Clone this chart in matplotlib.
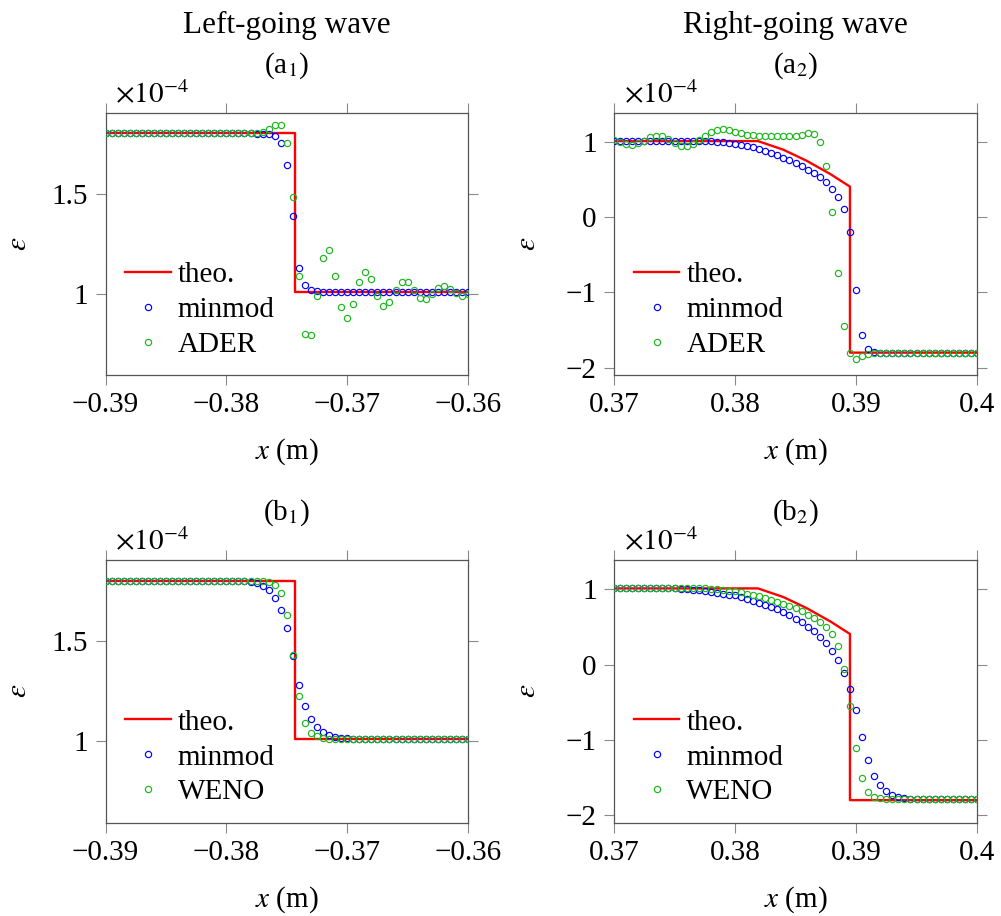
import numpy as np
import matplotlib
matplotlib.use('Agg')
import matplotlib.pyplot as plt

plt.rcParams['font.family'] = ['Liberation Serif', 'DejaVu Serif']
plt.rcParams['mathtext.fontset'] = 'stix'
plt.rcParams['font.size'] = 21

# ---------------- data ----------------
x_left = np.linspace(-0.39, -0.36, 61)
x_right = np.linspace(0.37, 0.40, 61)

theo_left_x = [-0.39, -0.3743, -0.3743, -0.36]
theo_left_y = [1.80, 1.80, 1.01, 1.01]
theo_right_x = [0.37, 0.3819, 0.3840, 0.3859, 0.3879, 0.3895, 0.3895, 0.40]
theo_right_y = [1.01, 1.01, 0.895, 0.75, 0.57, 0.405, -1.80, -1.80]

a1_minmod = [1.80, 1.80, 1.80, 1.80, 1.80, 1.80, 1.80, 1.80, 1.80, 1.80,
             1.80, 1.80, 1.80, 1.80, 1.80, 1.80, 1.80, 1.80, 1.80, 1.80,
             1.80, 1.80, 1.80, 1.80, 1.80, 1.799, 1.797, 1.795, 1.787, 1.75,
             1.64, 1.39, 1.13, 1.043, 1.02, 1.012, 1.01, 1.01, 1.01, 1.01,
             1.01, 1.01, 1.01, 1.01, 1.01, 1.01, 1.01, 1.01, 1.01, 1.01,
             1.01, 1.01, 1.01, 1.01, 1.01, 1.01, 1.01, 1.01, 1.01, 1.01,
             1.01]
a1_ader = [1.80, 1.80, 1.80, 1.80, 1.80, 1.80, 1.80, 1.80, 1.80, 1.80,
           1.80, 1.80, 1.80, 1.80, 1.80, 1.80, 1.80, 1.80, 1.80, 1.80,
           1.80, 1.80, 1.80, 1.80, 1.80, 1.802, 1.806, 1.82, 1.84, 1.84,
           1.75, 1.483, 1.09, 0.80, 0.795, 0.99, 1.18, 1.22, 1.09, 0.935,
           0.88, 0.95, 1.06, 1.11, 1.075, 0.99, 0.94, 0.96, 1.02, 1.06,
           1.06, 1.02, 0.98, 0.975, 1.00, 1.03, 1.04, 1.025, 1.005, 0.99,
           1.00]

a2_minmod = [1.01, 1.01, 1.01, 1.01, 1.01, 1.01, 1.01, 1.01, 1.01, 1.01,
             1.01, 1.01, 1.01, 1.01, 1.01, 1.01, 1.008, 1.003, 0.997, 0.987,
             0.973, 0.96, 0.947, 0.928, 0.906, 0.88, 0.853, 0.822, 0.791, 0.755,
             0.715, 0.675, 0.631, 0.582, 0.528, 0.462, 0.377, 0.271, 0.111, -0.20,
             -0.973, -1.569, -1.747, -1.792, -1.80, -1.80, -1.80, -1.80, -1.80, -1.80,
             -1.80, -1.80, -1.80, -1.80, -1.80, -1.80, -1.80, -1.80, -1.80, -1.80,
             -1.80]
a2_ader = [1.022, 0.995, 0.973, 0.964, 0.982, 1.009, 1.062, 1.084, 1.08, 1.04,
           0.986, 0.951, 0.942, 0.969, 1.031, 1.075, 1.133, 1.155, 1.164, 1.155,
           1.128, 1.111, 1.097, 1.088, 1.08, 1.075, 1.071, 1.071, 1.071, 1.075,
           1.084, 1.097, 1.115, 1.106, 0.995, 0.675, 0.07, -0.738, -1.445, -1.805,
           -1.885, -1.85, -1.82, -1.80, -1.80, -1.80, -1.80, -1.80, -1.80, -1.80,
           -1.80, -1.80, -1.80, -1.80, -1.80, -1.80, -1.80, -1.80, -1.80, -1.80,
           -1.80]

b1_minmod = [1.80, 1.80, 1.80, 1.80, 1.80, 1.80, 1.80, 1.80, 1.80, 1.80,
             1.80, 1.80, 1.80, 1.80, 1.80, 1.80, 1.80, 1.80, 1.80, 1.80,
             1.80, 1.80, 1.80, 1.797, 1.792, 1.787, 1.774, 1.752, 1.715, 1.655,
             1.562, 1.427, 1.278, 1.175, 1.11, 1.072, 1.047, 1.032, 1.023, 1.018,
             1.015, 1.012, 1.012, 1.012, 1.012, 1.012, 1.012, 1.012, 1.012, 1.012,
             1.012, 1.012, 1.012, 1.012, 1.012, 1.012, 1.012, 1.012, 1.012, 1.012,
             1.012]
b1_weno = [1.80, 1.80, 1.80, 1.80, 1.80, 1.80, 1.80, 1.80, 1.80, 1.80,
           1.80, 1.80, 1.80, 1.80, 1.80, 1.80, 1.80, 1.80, 1.80, 1.80,
           1.80, 1.80, 1.80, 1.80, 1.80, 1.80, 1.798, 1.792, 1.779, 1.74,
           1.627, 1.431, 1.225, 1.093, 1.043, 1.026, 1.017, 1.012, 1.012, 1.012,
           1.012, 1.012, 1.012, 1.012, 1.012, 1.012, 1.012, 1.012, 1.012, 1.012,
           1.012, 1.012, 1.012, 1.012, 1.012, 1.012, 1.012, 1.012, 1.012, 1.012,
           1.012]

b2_minmod = [1.01, 1.01, 1.01, 1.01, 1.01, 1.01, 1.01, 1.01, 1.01, 1.01,
             1.01, 1.005, 1.00, 0.995, 0.985, 0.975, 0.963, 0.952, 0.94, 0.928,
             0.916, 0.893, 0.876, 0.849, 0.822, 0.796, 0.764, 0.733, 0.698, 0.658,
             0.609, 0.56, 0.502, 0.44, 0.364, 0.284, 0.178, 0.058, -0.107, -0.32,
             -0.609, -0.964, -1.267, -1.476, -1.60, -1.684, -1.733, -1.764, -1.778, -1.782,
             -1.79, -1.79, -1.79, -1.79, -1.79, -1.79, -1.79, -1.79, -1.79, -1.79,
             -1.79]
b2_weno = [1.01, 1.01, 1.01, 1.01, 1.01, 1.01, 1.01, 1.01, 1.01, 1.01,
           1.01, 1.01, 1.01, 1.01, 1.01, 1.01, 1.007, 1.00, 0.992, 0.981,
           0.969, 0.956, 0.942, 0.924, 0.907, 0.884, 0.862, 0.836, 0.809, 0.778,
           0.747, 0.707, 0.662, 0.618, 0.564, 0.498, 0.40, 0.249, -0.058, -0.556,
           -1.102, -1.511, -1.689, -1.756, -1.778, -1.787, -1.79, -1.79, -1.79, -1.79,
           -1.79, -1.79, -1.79, -1.79, -1.79, -1.79, -1.79, -1.79, -1.79, -1.79,
           -1.79]

left_xticks = [-0.39, -0.38, -0.37, -0.36]
left_xticklabels = ['\u22120.39', '\u22120.38', '\u22120.37', '\u22120.36']
right_xticks = [0.37, 0.38, 0.39, 0.40]
right_xticklabels = ['0.37', '0.38', '0.39', '0.4']
left_yticks = [1.0, 1.5]
left_yticklabels = ['1', '1.5']
right_yticks = [-2, -1, 0, 1]
right_yticklabels = ['\u22122', '\u22121', '0', '1']

# ---------------- figure ----------------
W, H = 1001, 916
fig = plt.figure(figsize=(W / 100, H / 100), dpi=100)

RED = '#ff0000'
BLUE = '#0000ff'
GREEN = '#1cb81c'
SPINE = '#555555'
TICK = '#8a8a8a'


def px_axes(l, r, t, b):
    return fig.add_axes([l / W, 1 - b / H, (r - l) / W, (b - t) / H])


panels = [
    dict(box=(105.5, 468, 112.7, 375), x=x_left, tx=theo_left_x, ty=theo_left_y,
         s1=a1_minmod, s2=a1_ader, n2='ADER', xl=(-0.39, -0.36), yl=(0.595, 1.903),
         xt=left_xticks, xtl=left_xticklabels, yt=left_yticks, ytl=left_yticklabels,
         tag='(a$_1$)', head='Left-going wave'),
    dict(box=(614, 977, 112.7, 375), x=x_right, tx=theo_right_x, ty=theo_right_y,
         s1=a2_minmod, s2=a2_ader, n2='ADER', xl=(0.37, 0.40), yl=(-2.097, 1.387),
         xt=right_xticks, xtl=right_xticklabels, yt=right_yticks, ytl=right_yticklabels,
         tag='(a$_2$)', head='Right-going wave'),
    dict(box=(105.5, 468, 560, 822.5), x=x_left, tx=theo_left_x, ty=theo_left_y,
         s1=b1_minmod, s2=b1_weno, n2='WENO', xl=(-0.39, -0.36), yl=(0.595, 1.903),
         xt=left_xticks, xtl=left_xticklabels, yt=left_yticks, ytl=left_yticklabels,
         tag='(b$_1$)', head=None),
    dict(box=(614, 977, 560, 822.5), x=x_right, tx=theo_right_x, ty=theo_right_y,
         s1=b2_minmod, s2=b2_weno, n2='WENO', xl=(0.37, 0.40), yl=(-2.097, 1.387),
         xt=right_xticks, xtl=right_xticklabels, yt=right_yticks, ytl=right_yticklabels,
         tag='(b$_2$)', head=None),
]

mk = dict(marker='o', mfc='none', ms=4.5, mew=0.85, linestyle='none')

for p in panels:
    l, r, t, b = p['box']
    ax = px_axes(l, r, t, b)
    ax.plot(p['tx'], p['ty'], color=RED, lw=1.7, label='theo.', zorder=2)
    ax.plot(p['x'], p['s1'], color=BLUE, label='minmod', zorder=3, **mk)
    ax.plot(p['x'], p['s2'], color=GREEN, label=p['n2'], zorder=4, **mk)
    ax.set_xlim(*p['xl'])
    ax.set_ylim(*p['yl'])
    ax.set_xticks(p['xt'])
    ax.set_xticklabels(p['xtl'])
    ax.set_yticks(p['yt'])
    ax.set_yticklabels(p['ytl'])
    ax.tick_params(direction='out', length=7.5, width=0.8, color=TICK,
                   top=True, right=True, labeltop=False, labelright=False,
                   labelsize=21, pad=5)
    for s in ax.spines.values():
        s.set_color(SPINE)
        s.set_linewidth(0.9)
    ax.legend(loc='lower left', bbox_to_anchor=(0.055, 0.065), frameon=False,
              handlelength=1.55, handletextpad=0.25, labelspacing=0.29,
              borderpad=0, borderaxespad=0, fontsize=21, numpoints=1)
    cx = (l + r) / 2
    fig.text(cx / W, 1 - (b + 77) / H, '$x$ (m)', ha='center', va='center', fontsize=21)
    fig.text((l - 86) / W, 1 - ((t + b) / 2) / H, r'$\varepsilon$', ha='center',
             va='center', rotation=90, fontsize=21)
    fig.text((l + 9.5) / W, 1 - (t - 9.5) / H, r'$\times10^{-4}$', ha='left',
             va='baseline', fontsize=21)
    fig.text(cx / W, 1 - (t - 40) / H, p['tag'], ha='center', va='baseline', fontsize=21)
    if p['head']:
        fig.text(cx / W, 1 - 33 / H, p['head'], ha='center', va='baseline', fontsize=22.5)

fig.savefig('out.png', dpi=100)
